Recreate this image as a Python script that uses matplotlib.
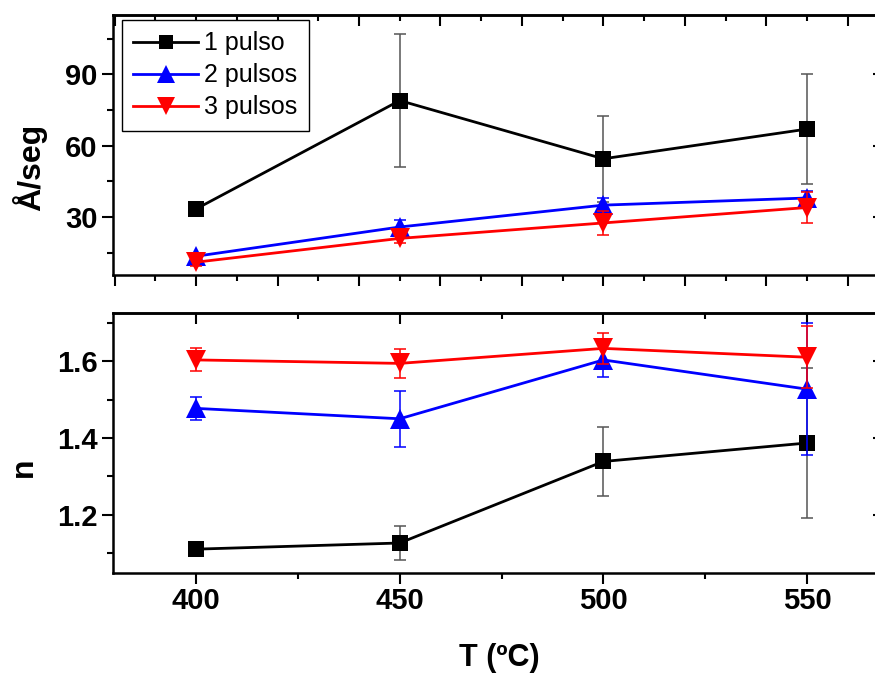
import matplotlib
matplotlib.use("Agg")
import matplotlib.pyplot as plt
from matplotlib.ticker import MultipleLocator

plt.rcParams['font.family'] = ['Liberation Sans', 'DejaVu Sans']
plt.rcParams['font.weight'] = 'bold'

T = [400, 450, 500, 550]
labels = ["1 pulso", "2 pulsos", "3 pulsos"]
colors = ["black", "blue", "red"]
err_colors = ["#555555", "blue", "red"]
markers = ["s", "^", "v"]
msizes = [11, 14, 14]

# Top panel: rate (Å/seg)
rate = [
    [33.4, 79.0, 54.5, 67.0],
    [13.5, 25.8, 35.0, 38.0],
    [11.0, 21.0, 27.5, 34.0],
]
rate_err = [
    [0.0, 28.0, 18.0, 23.0],
    [1.5, 3.0, 3.0, 3.0],
    [1.5, 2.0, 5.0, 6.7],
]

# Bottom panel: n
nval = [
    [1.111, 1.127, 1.339, 1.387],
    [1.477, 1.450, 1.603, 1.527],
    [1.603, 1.594, 1.633, 1.610],
]
n_err = [
    [0.0, 0.045, 0.09, 0.195],
    [0.03, 0.073, 0.045, 0.172],
    [0.03, 0.038, 0.04, 0.08],
]

W, H = 875, 673
fig = plt.figure(figsize=(W / 100, H / 100), dpi=100)
L, R = 113, 884
ax1 = fig.add_axes([L / W, (H - 275) / H, (R - L) / W, 260 / H])
ax2 = fig.add_axes([L / W, (H - 573) / H, (R - L) / W, 260 / H])

XMIN, XMAX = 379.6, 568.9

def style(ax, xmaj, xmin_, ymaj, ymin_, xlabels):
    ax.set_xlim(XMIN, XMAX)
    ax.xaxis.set_major_locator(MultipleLocator(xmaj))
    ax.xaxis.set_minor_locator(MultipleLocator(xmin_))
    ax.yaxis.set_major_locator(MultipleLocator(ymaj))
    ax.yaxis.set_minor_locator(MultipleLocator(ymin_))
    for s in ax.spines.values():
        s.set_linewidth(1.8)
    ax.tick_params(which='both', direction='out', top=False, right=False,
                   width=1.5, labelsize=21)
    ax.tick_params(which='major', length=8)
    ax.tick_params(which='minor', length=4)
    ax.tick_params(axis='x', pad=2)
    ax.tick_params(axis='y', pad=3)
    if not xlabels:
        ax.tick_params(labelbottom=False)
    sx = ax.secondary_xaxis('top')
    sx.xaxis.set_major_locator(MultipleLocator(xmaj))
    sx.xaxis.set_minor_locator(MultipleLocator(xmin_))
    sx.tick_params(which='both', direction='in', labeltop=False, width=1.5)
    sx.tick_params(which='major', length=8)
    sx.tick_params(which='minor', length=4)
    sx.spines['top'].set_linewidth(1.8)
    sy = ax.secondary_yaxis('right')
    sy.yaxis.set_major_locator(MultipleLocator(ymaj))
    sy.yaxis.set_minor_locator(MultipleLocator(ymin_))
    sy.tick_params(which='both', direction='in', labelright=False, width=1.5)
    sy.tick_params(which='major', length=8)
    sy.tick_params(which='minor', length=4)

for ax, data, err in ((ax1, rate, rate_err), (ax2, nval, n_err)):
    for i in range(3):
        ax.errorbar(T, data[i], yerr=err[i], fmt='none', ecolor=err_colors[i],
                    elinewidth=1.1, capsize=4, capthick=1.1, zorder=2 + i)
        ax.plot(T, data[i], color=colors[i], marker=markers[i], markersize=msizes[i],
                markeredgewidth=0, linewidth=2.0, label=labels[i], zorder=2.5 + i)

ax1.set_ylim(5.6, 115.0)
style(ax1, 20, 10, 30, 15, False)
ax2.set_ylim(1.049, 1.725)
style(ax2, 50, 25, 0.2, 0.1, True)

fig.text(30 / W, 1 - 167 / H, "Å/seg", rotation=90, ha='center', va='center',
         fontsize=23, fontweight='bold')
fig.text(24 / W, 1 - 467 / H, "n", rotation=90, ha='center', va='center',
         fontsize=23, fontweight='bold')
fig.text(499 / W, 1 - 658 / H, "T (ºC)", ha='center', va='center',
         fontsize=22, fontweight='bold')

leg = ax1.legend(loc='upper left', bbox_to_anchor=((122 - L) / (R - L), 1 - 5 / 260),
                 borderaxespad=0, prop={'size': 18, 'weight': 'normal'},
                 frameon=True, fancybox=False, edgecolor='black', framealpha=1,
                 borderpad=0.45, handlelength=2.6, handletextpad=0.25,
                 labelspacing=0.32, markerscale=0.9)
leg.get_frame().set_linewidth(1.0)

fig.savefig("out.png", dpi=100)
